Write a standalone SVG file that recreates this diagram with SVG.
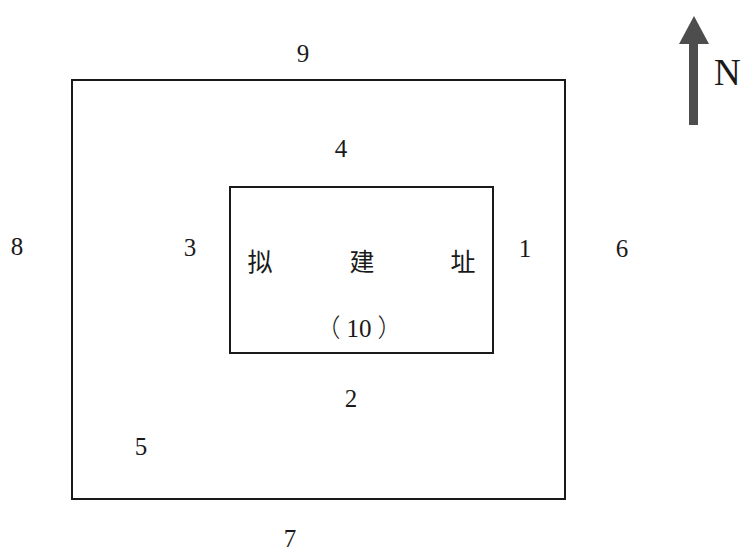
<svg xmlns="http://www.w3.org/2000/svg" width="743" height="552" viewBox="0 0 743 552">
<style>
.box{fill:none;stroke:#1a1a1a;stroke-width:2}
.num{font-family:"Liberation Serif","Noto Sans CJK SC",serif;font-size:25px;fill:#1a1a1a;text-anchor:middle}
.cjk{font-family:"Noto Sans CJK SC",sans-serif;font-size:25px;fill:#1a1a1a;text-anchor:middle}
.par{font-family:"Noto Sans CJK SC",sans-serif;font-weight:300}
</style>
<rect width="743" height="552" fill="#ffffff"/>
<g id="outer-site">
<rect class="box" x="72" y="80" width="493" height="419"/>
</g>
<g id="proposed-site">
<rect class="box" x="230" y="187" width="263" height="166"/>
<text class="cjk" x="260" y="271">拟</text>
<text class="cjk" x="362" y="271">建</text>
<text class="cjk" x="463" y="271">址</text>
<text class="num" x="359" y="337"><tspan class="par" x="328">（</tspan><tspan x="359">10</tspan><tspan class="par" x="390">）</tspan></text>
</g>
<g id="labels">
<text class="num" x="303" y="62">9</text>
<text class="num" x="341" y="157">4</text>
<text class="num" x="17" y="255">8</text>
<text class="num" x="190" y="256">3</text>
<text class="num" x="525" y="257">1</text>
<text class="num" x="622" y="257">6</text>
<text class="num" x="351" y="407">2</text>
<text class="num" x="141" y="455">5</text>
<text class="num" x="290" y="547">7</text>
</g>
<g id="north-arrow">
<polygon points="694,16 679,44 709,44" fill="#4d4d4d"/>
<rect x="689" y="43" width="9" height="82" fill="#4d4d4d"/>
<text x="714" y="85" font-family="Liberation Serif,serif" font-size="37" fill="#1a1a1a">N</text>
</g>
<g id="connectors"/>
</svg>
